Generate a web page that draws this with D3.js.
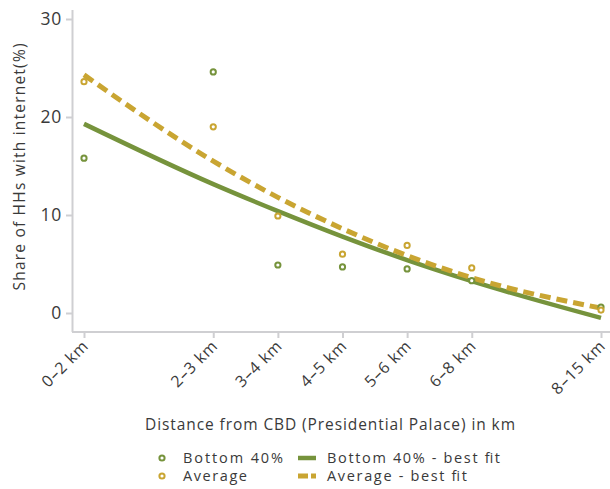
<!DOCTYPE html>
<html><head><meta charset="utf-8">
<script src="https://cdn.jsdelivr.net/npm/d3@7"></script>
<style>
body{margin:0;background:#fff;}
text{font-family:"Open Sans",sans-serif;fill:#3a3a3a;}
</style></head>
<body><svg id="c" width="610" height="489"></svg>
<script>
const categories = ["0–2 km","2–3 km","3–4 km","4–5 km","5–6 km","6–8 km","8–15 km"];
const xValues = [0,2,3,4,5,6,8];
const bottom40 = [15.8,24.6,4.9,4.7,4.5,3.3,0.6];
const average = [23.6,19.0,9.9,6.0,6.9,4.6,0.3];
const bottom40Fit = [19.3,13.15,10.4,7.8,5.4,3.25,-0.5];
const averageFit = [24.3,15.5,11.8,8.6,5.86,3.6,0.5];
const yTicks = [0,10,20,30];

const green = "#76933c", gold = "#c9a532";
const font = "'Open Sans',sans-serif";
const svg = d3.select("#c");
const x = d3.scaleLinear().domain([0,8]).range([84,601]);
const y = d3.scaleLinear().domain([0,30]).range([313,19]);
const axisColor = "#cfcfd2";

svg.append("line").attr("x1",72.5).attr("x2",72.5).attr("y1",10).attr("y2",332)
  .attr("stroke",axisColor).attr("stroke-width",2);
svg.append("line").attr("x1",72).attr("x2",610).attr("y1",332).attr("y2",332)
  .attr("stroke",axisColor).attr("stroke-width",2);

const yAxis = svg.append("g").attr("transform","translate(72,0)")
  .call(d3.axisLeft(y).tickValues(yTicks).tickSize(6).tickPadding(4));
yAxis.select(".domain").remove();
yAxis.selectAll(".tick line").attr("stroke",axisColor).attr("stroke-width",2);
yAxis.selectAll(".tick text").attr("font-size",17.5).attr("font-family",font).attr("fill","#3a3a3a")
  .attr("letter-spacing",0.8);

const xAxis = svg.append("g").attr("transform","translate(0,332)")
  .call(d3.axisBottom(x).tickValues(xValues).tickFormat((d,i)=>categories[i]).tickSize(6));
xAxis.select(".domain").remove();
xAxis.selectAll(".tick line").attr("stroke",axisColor).attr("stroke-width",2);
xAxis.selectAll(".tick text").attr("font-size",16).attr("font-family",font).attr("fill","#3a3a3a")
  .attr("letter-spacing",0.8)
  .attr("text-anchor","end").attr("dy",null).attr("y",0)
  .attr("transform","translate(5,15) rotate(-45)");

svg.append("text").attr("transform","translate(25,167) rotate(-90)").attr("text-anchor","middle")
  .attr("font-size",15.5).attr("textLength",247).attr("lengthAdjust","spacing")
  .text("Share of HHs with internet(%)");
svg.append("text").attr("x",145).attr("y",430)
  .attr("font-size",15.5).attr("textLength",370).attr("lengthAdjust","spacing")
  .text("Distance from CBD (Presidential Palace) in km");

const line = d3.line().x((d,i)=>x(xValues[i])).y(d=>y(d)).curve(d3.curveMonotoneX);
svg.append("path").datum(bottom40Fit).attr("d",line).attr("fill","none")
  .attr("stroke",green).attr("stroke-width",4.5);
svg.append("path").datum(averageFit).attr("d",line).attr("fill","none")
  .attr("stroke",gold).attr("stroke-width",5).attr("stroke-dasharray","11,6");

function pts(data,color){
  svg.append("g").selectAll("circle").data(data).join("circle")
    .attr("cx",(d,i)=>x(xValues[i])).attr("cy",d=>y(d)).attr("r",2.6)
    .attr("fill","#fff").attr("stroke",color).attr("stroke-width",2);
}
pts(bottom40,green);
pts(average,gold);

const lg = svg.append("g");
lg.append("circle").attr("cx",162).attr("cy",458).attr("r",2.6).attr("fill","#fff").attr("stroke",green).attr("stroke-width",2);
lg.append("circle").attr("cx",162).attr("cy",476).attr("r",2.6).attr("fill","#fff").attr("stroke",gold).attr("stroke-width",2);
function lt(xp,yp,len,t){
  lg.append("text").attr("x",xp).attr("y",yp).attr("font-size",14.5)
    .attr("textLength",len).attr("lengthAdjust","spacing").text(t);
}
lt(183,463,100,"Bottom 40%");
lt(183,481,64,"Average");
lg.append("line").attr("x1",298).attr("x2",316).attr("y1",458).attr("y2",458).attr("stroke",green).attr("stroke-width",4.5);
lg.append("line").attr("x1",298).attr("x2",316).attr("y1",476).attr("y2",476).attr("stroke",gold).attr("stroke-width",5).attr("stroke-dasharray","10,3");
lt(327,463,173,"Bottom 40% - best fit");
lt(327,481,140,"Average - best fit");
</script></body></html>
